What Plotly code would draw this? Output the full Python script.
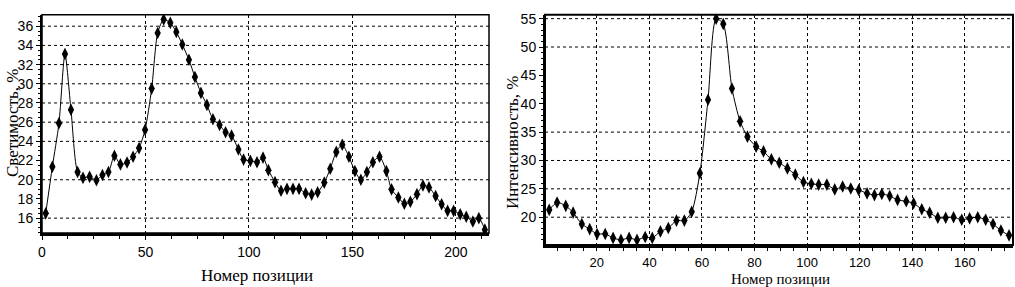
import plotly.graph_objects as go

# ---- data ----
left_x = [1.8, 5.0, 8.2, 11.1, 14.0, 17.2, 19.8, 23.0, 26.3, 29.2, 32.1, 35.0, 37.9, 41.1, 44.0, 46.9,
          49.8, 53.0, 55.9, 58.8, 62.0, 64.9, 67.8, 71.0, 73.9, 76.8, 79.7, 82.6, 85.8, 88.7, 91.6,
          94.9, 97.4, 100.7, 103.9, 106.8, 109.4, 112.6, 115.5, 118.4, 121.3, 124.2, 127.4, 130.3,
          133.2, 136.4, 139.3, 142.2, 145.1, 148.3, 151.2, 154.1, 157.0, 159.9, 163.1, 166.4, 168.9,
          172.2, 175.1, 178.0, 181.2, 184.1, 187.0, 190.2, 193.1, 196.0, 198.9, 202.1, 205.0, 208.2,
          211.1, 214.0]
left_y = [16.5, 21.35, 25.9, 33.1, 27.3, 20.8, 20.2, 20.3, 19.95, 20.5, 20.8, 22.5, 21.6, 21.8, 22.4,
          23.3, 25.2, 29.5, 35.3, 36.7, 36.35, 35.4, 34.1, 32.5, 30.7,
          29.05, 27.8, 26.3, 25.7, 24.95, 24.6, 23.15, 22.1, 21.97, 21.83, 22.3, 21.0, 19.75, 18.85,
          19.05, 19.05, 19.05, 18.6, 18.45, 18.7, 19.7, 21.15, 22.9,
          23.65, 22.4, 20.9, 20.0, 20.8, 21.83, 22.4, 20.9, 19.0, 18.15, 17.5, 17.7, 18.5, 19.4, 19.2,
          18.3, 17.45, 16.76, 16.76, 16.4, 16.14, 15.65, 16.0, 14.8]

right_x = [1.9, 4.9, 8.2, 11.0, 14.3, 17.3, 20.1, 23.2, 26.2, 29.2, 32.3, 35.3, 38.4, 41.1, 44.2, 47.2,
           50.3, 53.3, 56.1, 59.2, 62.3, 65.4, 68.1, 71.4, 74.5, 77.3, 80.6, 83.4, 86.4, 89.4, 92.5,
           95.5, 98.6, 101.6, 104.4, 107.5, 110.5, 113.5, 116.6, 119.6, 122.8, 125.6, 128.4, 131.4,
           134.4, 137.7, 140.5, 143.6, 146.6, 149.7, 152.7, 155.7, 158.8, 161.8, 164.9, 167.9, 170.7,
           173.7, 176.8]
right_y = [21.3, 22.6, 22.0, 20.8, 18.8, 17.9, 17.05, 17.05, 16.35, 16.0, 16.35, 16.0, 16.5, 16.35, 17.5,
           18.1, 19.4, 19.4, 20.95, 27.75,
           40.7, 55.0, 54.07, 42.7, 36.9, 34.2, 32.45, 31.6, 30.2, 29.6, 28.6, 27.5, 26.2, 25.9, 25.75,
           25.75, 24.9, 25.4, 25.05, 24.8,
           24.2, 23.9, 24.1, 23.75, 23.05, 22.8, 22.45, 21.4, 20.8, 19.9, 19.9, 20.0, 19.55, 19.8, 20.0,
           19.55, 18.8, 17.65, 16.8]

left_xticks = [0, 50, 100, 150, 200]
left_yticks = [16, 18, 20, 22, 24, 26, 28, 30, 32, 34, 36]
left_ygrid = [16, 20, 24, 26, 28, 30, 32, 34, 36]
right_xticks = [20, 40, 60, 80, 100, 120, 140, 160]
right_yticks = [20, 25, 30, 35, 40, 45, 50, 55]
right_ygrid = [20, 25, 30, 35, 50, 55]

x_title = "Номер позиции"
left_ytitle = "Светимость, %"
right_ytitle = "Интенсивность, %"

# ---- figure ----
W, H = 1015, 287
TICKFONT = dict(family="Liberation Sans Narrow, Liberation Sans, sans-serif", size=14, color="black")
TICKFONT_RX = dict(family="Liberation Sans Narrow, Liberation Sans, sans-serif", size=13, color="black")
TITLEFONT = dict(family="Liberation Serif, Times New Roman, serif", size=17, color="black")
TITLEFONT_R = dict(family="Liberation Serif, Times New Roman, serif", size=15, color="black")

def px_x(p):
    return p / W

def px_y(p):
    return 1 - p / H

fig = go.Figure()
marker = dict(symbol="diamond-tall", size=9, color="black")
line = dict(color="black", width=1, shape="spline", smoothing=0.7)
fig.add_trace(go.Scatter(x=left_x, y=left_y, mode="lines+markers", marker=marker, line=line,
                         xaxis="x", yaxis="y", showlegend=False, hoverinfo="skip"))
fig.add_trace(go.Scatter(x=right_x, y=right_y, mode="lines+markers", marker=marker, line=line,
                         xaxis="x2", yaxis="y2", showlegend=False, hoverinfo="skip"))

common_x = dict(showgrid=True, gridcolor="black", griddash="dot", gridwidth=1, automargin=False,
                showline=True, linecolor="black", zeroline=False,
                ticks="outside", tickcolor="black")
common_y = dict(showgrid=False, showline=True, linecolor="black", linewidth=2, zeroline=False,
                automargin=False,
                ticks="outside", ticklen=4, tickcolor="black", tickfont=TICKFONT)

fig.update_layout(
    width=W, height=H, margin=dict(l=0, r=0, t=0, b=0, autoexpand=False),
    paper_bgcolor="white", plot_bgcolor="white",
    xaxis=dict(domain=[px_x(42), px_x(489)], range=[0, 216], anchor="y",
               tickvals=left_xticks, linewidth=3, ticklen=4, tickfont=TICKFONT,
               minor=dict(dtick=12.5, ticks="outside", ticklen=3, tickcolor="black", showgrid=False),
               **common_x),
    yaxis=dict(domain=[px_y(233), px_y(14.7)], range=[14.45, 37.2], anchor="x",
               tickvals=left_yticks,
               minor=dict(dtick=0.5, ticks="outside", ticklen=2, tickcolor="black"),
               **common_y),
    xaxis2=dict(domain=[px_x(545), px_x(1013)], range=[0.3, 178.3], anchor="y2",
                tickvals=right_xticks, linewidth=3, ticklen=3, tickfont=TICKFONT_RX,
                minor=dict(dtick=5, ticks="outside", ticklen=3, tickcolor="black", showgrid=False),
                **common_x),
    yaxis2=dict(domain=[px_y(245), px_y(14.7)], range=[15.1, 55.7], anchor="x2",
                tickvals=right_yticks,
                minor=dict(dtick=1, ticks="outside", ticklen=2, tickcolor="black"),
                **common_y),
)

shapes = []
for v in left_ygrid:
    shapes.append(dict(type="line", xref="x domain", yref="y", x0=0, x1=1, y0=v, y1=v,
                       line=dict(color="black", width=1, dash="dot"), layer="below"))
for v in right_ygrid:
    shapes.append(dict(type="line", xref="x2 domain", yref="y2", x0=0, x1=1, y0=v, y1=v,
                       line=dict(color="black", width=1, dash="dot"), layer="below"))
shapes.append(dict(type="rect", xref="x domain", yref="y domain", x0=0, x1=1, y0=0, y1=1,
                   line=dict(color="black", width=1.5)))
shapes.append(dict(type="rect", xref="x2 domain", yref="y2 domain", x0=0, x1=1, y0=0, y1=1,
                   line=dict(color="black", width=2)))
fig.update_layout(shapes=shapes)

annotations = [
    dict(text=x_title, x=px_x(257), y=px_y(275), xref="paper", yref="paper",
         showarrow=False, font=TITLEFONT, xanchor="center", yanchor="middle"),
    dict(text=x_title, x=px_x(780), y=px_y(279), xref="paper", yref="paper",
         showarrow=False, font=TITLEFONT_R, xanchor="center", yanchor="middle"),
    dict(text=left_ytitle, x=px_x(12), y=px_y(123), xref="paper", yref="paper", textangle=-90,
         showarrow=False, font=TITLEFONT, xanchor="center", yanchor="middle"),
    dict(text=right_ytitle, x=px_x(513), y=px_y(142), xref="paper", yref="paper", textangle=-90,
         showarrow=False, font=TITLEFONT, xanchor="center", yanchor="middle"),
]
fig.update_layout(annotations=annotations)

fig.write_html("out.html", config={"displayModeBar": False, "staticPlot": True},
               post_script="document.body.style.margin='0';document.body.style.overflow='hidden';")
